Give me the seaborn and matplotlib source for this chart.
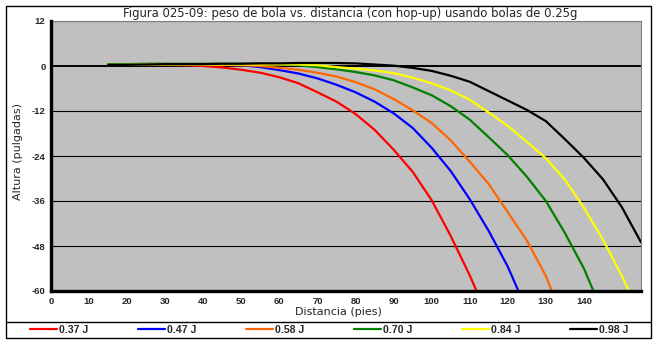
import numpy as np
import pandas as pd
import matplotlib
matplotlib.use("Agg")
import matplotlib.pyplot as plt
import seaborn as sns
from matplotlib.patches import Rectangle
from matplotlib.lines import Line2D

# ---------------- data ----------------
series_labels = ["0.37 J", "0.47 J", "0.58 J", "0.70 J", "0.84 J", "0.98 J"]
series_colors = ["#FF0000", "#0000FF", "#FF6600", "#008000", "#FFFF00", "#000000"]

dist_037 = [15, 20, 25, 30, 35, 40, 45, 50, 55, 60, 65, 70, 75, 80, 85, 90, 95, 100, 105, 110, 111.8]
alt_037 = [0.3, 0.3, 0.3, 0.3, 0.2, 0.0, -0.4, -1.0, -1.8, -3.0, -4.6, -7.0, -9.5, -12.8, -17.0,
           -22.3, -28.2, -35.8, -45.3, -55.8, -60.0]

dist_047 = [15, 20, 25, 30, 35, 40, 45, 50, 55, 60, 65, 70, 75, 80, 85, 90, 95, 100, 105, 110,
            115, 120, 122.8]
alt_047 = [0.3, 0.4, 0.4, 0.4, 0.4, 0.4, 0.3, 0.2, -0.3, -1.1, -2.0, -3.3, -5.0, -7.0, -9.5, -12.6,
           -16.5, -21.8, -28.0, -35.5, -44.0, -53.5, -60.0]

dist_058 = [15, 20, 25, 30, 35, 40, 45, 50, 55, 60, 65, 70, 75, 80, 85, 90, 95, 100, 105, 110,
            115, 120, 125, 130, 131.6]
alt_058 = [0.4, 0.4, 0.4, 0.4, 0.4, 0.4, 0.3, 0.2, 0.0, -0.5, -1.0, -1.8, -2.8, -4.3, -6.2, -8.8,
           -11.8, -15.2, -19.8, -25.5, -31.5, -39.0, -46.5, -56.0, -60.0]

dist_070 = [15, 20, 25, 30, 35, 40, 45, 50, 55, 60, 65, 70, 75, 80, 85, 90, 95, 100, 105, 110,
            115, 120, 125, 130, 135, 140, 142.5]
alt_070 = [0.5, 0.5, 0.6, 0.6, 0.6, 0.6, 0.6, 0.6, 0.6, 0.5, 0.2, -0.3, -0.9, -1.6, -2.5, -3.8,
           -5.7, -7.8, -10.7, -14.3, -19.0, -23.8, -29.5, -36.0, -44.5, -54.0, -60.0]

dist_084 = [15, 20, 25, 30, 35, 40, 45, 50, 55, 60, 65, 70, 75, 80, 85, 90, 95, 100, 105, 110,
            115, 120, 125, 130, 135, 140, 145, 150, 151.8]
alt_084 = [0.3, 0.3, 0.4, 0.4, 0.4, 0.4, 0.4, 0.4, 0.4, 0.4, 0.4, 0.2, -0.3, -0.7, -1.2, -1.9,
           -3.1, -4.6, -6.5, -9.0, -12.4, -16.0, -20.2, -24.6, -30.3, -37.8, -46.3, -56.0, -60.0]

dist_098 = [15, 20, 25, 30, 35, 40, 45, 50, 55, 60, 65, 70, 75, 80, 85, 90, 95, 100, 105, 110,
            115, 120, 125, 130, 135, 140, 145, 150, 155]
alt_098 = [0.3, 0.3, 0.4, 0.5, 0.5, 0.5, 0.6, 0.6, 0.7, 0.7, 0.8, 0.8, 0.8, 0.7, 0.4, 0.1,
           -0.5, -1.3, -2.6, -4.2, -6.7, -9.2, -11.7, -14.7, -19.5, -24.5, -30.2, -37.7, -47.0]

x_ticks = list(range(0, 156, 5))
x_ticklabels = [str(v) if (v % 10 == 0 and v < 150) else "" for v in x_ticks]
y_ticks = [12, 0, -12, -24, -36, -48, -60]

title = "Figura 025-09: peso de bola vs. distancia (con hop-up) usando bolas de 0.25g"
xlabel = "Distancia (pies)"
ylabel = "Altura (pulgadas)"

frames = []
for lab, xs, ys in zip(series_labels,
                       [dist_037, dist_047, dist_058, dist_070, dist_084, dist_098],
                       [alt_037, alt_047, alt_058, alt_070, alt_084, alt_098]):
    frames.append(pd.DataFrame({"dist": xs, "alt": ys, "serie": lab}))
df = pd.concat(frames, ignore_index=True)

# ---------------- figure ----------------
sns.set_style("white")
plt.rcParams["font.family"] = ["DejaVu Sans"]

W, H = 657, 343
fig = plt.figure(figsize=(W / 100, H / 100), dpi=100)
ax = fig.add_axes([51 / W, 1 - 291 / H, (641 - 51) / W, (291 - 21) / H])
ax.set_facecolor("#C0C0C0")

for y in y_ticks:
    ax.axhline(y, color="black", lw=1.4 if y == 0 else 0.8, zorder=1)

sns.lineplot(data=df, x="dist", y="alt", hue="serie", hue_order=series_labels,
             palette=series_colors, lw=1.6, ax=ax, legend=False, sort=False,
             estimator=None, zorder=3)

ax.set_xlim(0, 155)
ax.set_ylim(-60, 12)
ax.set_xticks(x_ticks)
ax.set_xticklabels(x_ticklabels)
ax.set_yticks(y_ticks)
ax.set_yticklabels([str(v) for v in y_ticks])
for lbl in ax.get_xticklabels() + ax.get_yticklabels():
    lbl.set_fontfamily("Liberation Sans")
    lbl.set_fontweight("bold")
    lbl.set_fontsize(6.8)
ax.tick_params(axis="both", direction="out", length=3, width=1.2, color="black", pad=1)

for s in ["left", "bottom"]:
    ax.spines[s].set_color("black")
    ax.spines[s].set_linewidth(2.4)
    ax.spines[s].set_zorder(5)
for s in ["top", "right"]:
    ax.spines[s].set_color("#808080")
    ax.spines[s].set_linewidth(0.8)

ax.set_xlabel("")
ax.set_ylabel("")
fig.text(338 / W, 1 - 312 / H, xlabel, ha="center", va="center", fontsize=8)
fig.text(18 / W, 1 - 151 / H, ylabel, ha="center", va="center", rotation=90, fontsize=8)
fig.text(350 / W, 1 - 13 / H, title, ha="center", va="center", fontsize=8.4)

# outer frame and legend separator
fig.patches.append(Rectangle((5.5 / W, 1 - 338 / H), (651 - 5.5) / W, (338 - 5.5) / H,
                             transform=fig.transFigure, fill=False, ec="black", lw=1))
fig.lines.append(Line2D([5.5 / W, 651 / W], [1 - 322 / H, 1 - 322 / H],
                        transform=fig.transFigure, color="black", lw=1))

leg_font = {"family": "Liberation Sans", "weight": "bold", "size": 7.6}
fsize_px = 7.6 * 100 / 72
for i, (lab, col) in enumerate(zip(series_labels, series_colors)):
    h = Line2D([], [], color=col, lw=1.6)
    fig.legend([h], [lab], loc="center left",
               bbox_to_anchor=((30 + 108 * i) / W, 1 - 330 / H),
               frameon=False, handlelength=27 / fsize_px, handletextpad=0.2,
               prop=leg_font, borderaxespad=0, borderpad=0)

fig.savefig("out.png", dpi=100)
